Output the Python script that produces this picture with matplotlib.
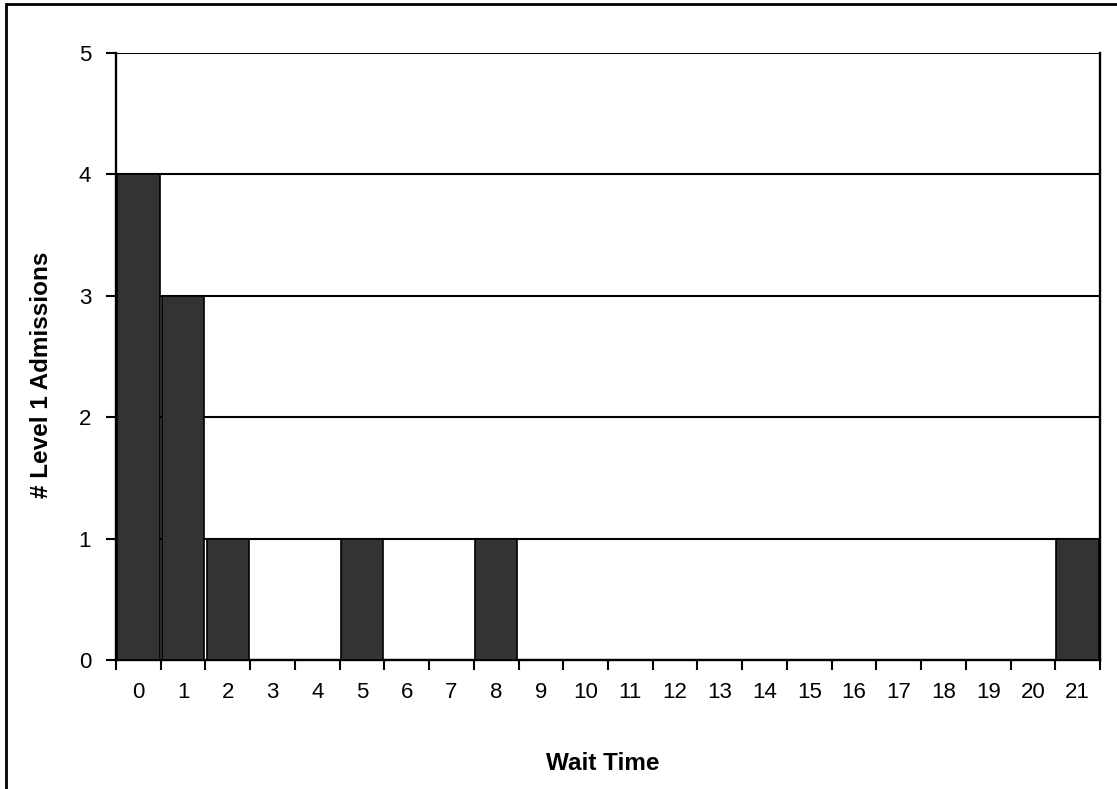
import numpy as np
import matplotlib.pyplot as plt
from matplotlib.patches import Rectangle

plt.rcParams.update({'font.size': 16, 'font.family': ['Liberation Sans', 'DejaVu Sans']})

# wait time categories and number of level 1 admissions
wait_time = [str(i) for i in range(22)]
admissions = [4, 3, 1, 0, 0, 1, 0, 0, 1, 0, 0, 0, 0, 0, 0, 0, 0, 0, 0, 0, 0, 1]

fig = plt.figure(figsize=(11.17, 7.89), dpi=100)
ax = fig.add_axes([116/1117, 129/789, 984/1117, 607/789])

x = np.arange(len(wait_time))
ax.bar(x, admissions, width=0.95, color='#333333', edgecolor='black', linewidth=1.2, zorder=3)

ax.set_xlim(-0.5, len(wait_time) - 0.5)
ax.set_ylim(0, 5)
ax.set_yticks(range(6))
ax.yaxis.grid(True, color='black', linewidth=1.5)
ax.set_axisbelow(True)

# category labels centred, tick marks between categories
ax.set_xticks(x)
ax.set_xticklabels(wait_time)
ax.tick_params(axis='x', which='major', length=0, pad=16)
ax.set_xticks(np.arange(-0.5, len(wait_time)), minor=True)
ax.tick_params(axis='x', which='minor', length=7, width=1.5, direction='out')
ax.tick_params(axis='y', length=7, width=1.5, pad=11)

ax.spines['top'].set_visible(False)
for s in ['left', 'bottom', 'right']:
    ax.spines[s].set_linewidth(1.7)

ax.set_xlabel('Wait Time', fontweight='bold', fontsize=17.5)
ax.xaxis.set_label_coords(0.495, -0.151)
ax.set_ylabel('# Level 1 Admissions', fontweight='bold', fontsize=17.5)
ax.yaxis.set_label_coords(-0.064, 0.47)

# outer chart border
fig.add_artist(Rectangle((6/1117, -0.1), 1.2, 1.1 - 4/789, transform=fig.transFigure,
                         fill=False, edgecolor='black', linewidth=2, clip_on=False))

plt.savefig('out.png', dpi=100)
